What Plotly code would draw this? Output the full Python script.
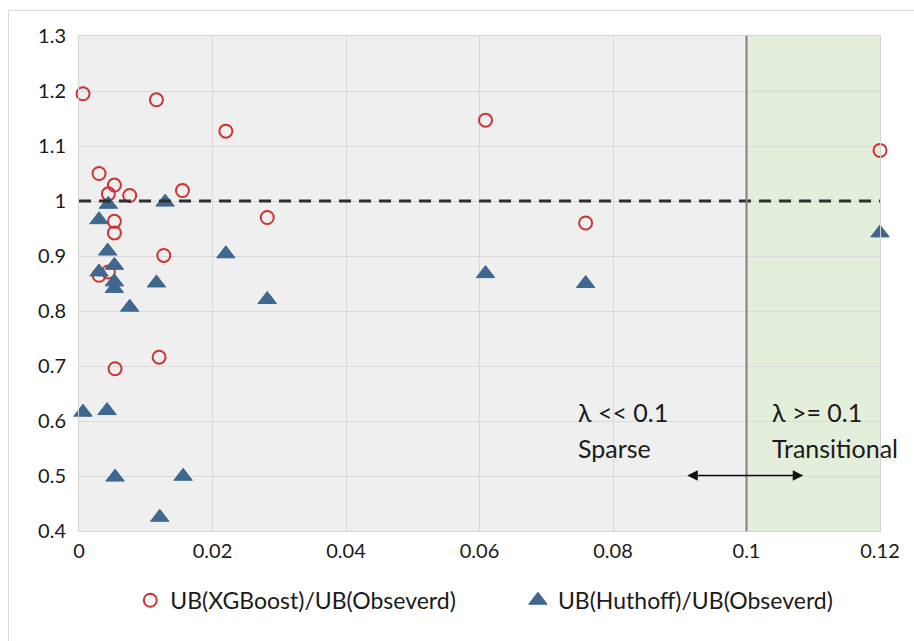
import plotly.graph_objects as go

# --- data ---
xgb_x = [0.0006, 0.0116, 0.0030, 0.0053, 0.0044, 0.0076, 0.0155, 0.0053, 0.0053, 0.0127,
         0.0030, 0.0044, 0.0120, 0.0054, 0.0220, 0.0282, 0.0609, 0.0759, 0.1200]
xgb_y = [1.195, 1.184, 1.050, 1.029, 1.013, 1.010, 1.019, 0.963, 0.942, 0.901,
         0.865, 0.871, 0.716, 0.695, 1.127, 0.970, 1.147, 0.960, 1.092]

hut_x = [0.0044, 0.0129, 0.0030, 0.0043, 0.0053, 0.0030, 0.0053, 0.0053, 0.0116, 0.0076,
         0.0006, 0.0042, 0.0054, 0.0156, 0.0121, 0.0220, 0.0282, 0.0609, 0.0759, 0.1200]
hut_y = [0.994, 0.998, 0.966, 0.909, 0.883, 0.871, 0.853, 0.841, 0.851, 0.807,
         0.616, 0.619, 0.498, 0.4995, 0.425, 0.904, 0.821, 0.868, 0.850, 0.942]

x_ticks = [0, 0.02, 0.04, 0.06, 0.08, 0.1, 0.12]
x_tick_labels = ["0", "0.02", "0.04", "0.06", "0.08", "0.1", "0.12"]
y_ticks = [0.4, 0.5, 0.6, 0.7, 0.8, 0.9, 1.0, 1.1, 1.2, 1.3]
y_tick_labels = ["0.4", "0.5", "0.6", "0.7", "0.8", "0.9", "1", "1.1", "1.2", "1.3"]

threshold = 0.1
ref_line = 1.0

FONT = "Lato"
RED = "#cc3333"
BLUE = "#3f678f"
TXT = "#1a1a1a"

fig = go.Figure()
fig.add_trace(go.Scatter(
    x=xgb_x, y=xgb_y, mode="markers", name="UB(XGBoost)/UB(Obseverd)", cliponaxis=False,
    legend="legend",
    marker=dict(symbol="circle-open", size=13, color=RED, line=dict(width=2, color=RED)),
))
fig.add_trace(go.Scatter(
    x=hut_x, y=hut_y, mode="markers", name="UB(Huthoff)/UB(Obseverd)", cliponaxis=False,
    legend="legend2",
    marker=dict(symbol="triangle-up", size=16, color=BLUE, line=dict(width=1, color=BLUE)),
))
# dashed reference line y=1
fig.add_trace(go.Scatter(
    x=[0, 0.12], y=[ref_line, ref_line], mode="lines", showlegend=False, hoverinfo="skip",
    line=dict(color="#2e2e2e", width=3, dash="12px,8px"),
))

shapes = [
    # outer chart border
    dict(type="rect", xref="paper", yref="paper", x0=-0.088, x1=1.05, y0=-0.25, y1=1.052,
         line=dict(color="#d9d9d9", width=1), fillcolor="rgba(0,0,0,0)", layer="below"),
    dict(type="rect", xref="x", yref="y", x0=0, x1=threshold, y0=0.4, y1=1.3,
         fillcolor="#efefef", line=dict(width=0), layer="below"),
    dict(type="rect", xref="x", yref="y", x0=threshold, x1=0.12, y0=0.4, y1=1.3,
         fillcolor="#e3eedb", line=dict(width=0), layer="below"),
    dict(type="line", xref="x", yref="y", x0=threshold, x1=threshold, y0=0.4, y1=1.3,
         line=dict(color="#7f7f7f", width=2), layer="above"),
]

ann_font = dict(family=FONT, size=25, color=TXT)
annotations = [
    dict(x=0.0745, y=0.617, xref="x", yref="y", text="λ << 0.1", showarrow=False,
         xanchor="left", yanchor="middle", font=ann_font),
    dict(x=0.0745, y=0.551, xref="x", yref="y", text="Sparse", showarrow=False,
         xanchor="left", yanchor="middle", font=ann_font),
    dict(x=0.1035, y=0.617, xref="x", yref="y", text="λ >= 0.1", showarrow=False,
         xanchor="left", yanchor="middle", font=ann_font),
    dict(x=0.1035, y=0.551, xref="x", yref="y", text="Transitional", showarrow=False,
         xanchor="left", yanchor="middle", font=ann_font),
    dict(x=0.1085, y=0.501, ax=0.0909, ay=0.501, xref="x", yref="y", axref="x", ayref="y",
         text="", showarrow=True, arrowhead=2, startarrowhead=2, arrowside="end+start",
         arrowsize=1.4, startarrowsize=1.4, arrowwidth=1.5, arrowcolor="#111111"),
]

leg_common = dict(orientation="h", xanchor="left", y=-0.14, yanchor="middle",
                  font=dict(family=FONT, size=23, color=TXT), itemwidth=30,
                  bgcolor="rgba(0,0,0,0)")

fig.update_layout(
    width=914, height=641,
    margin=dict(l=79, r=34, t=36, b=110),
    paper_bgcolor="white", plot_bgcolor="rgba(0,0,0,0)",
    font=dict(family=FONT, size=20, color=TXT),
    shapes=shapes, annotations=annotations,
    showlegend=True,
    legend=dict(x=0.064, **leg_common),
    legend2=dict(x=0.548, **leg_common),
)
fig.update_xaxes(range=[0, 0.12], tickvals=x_ticks, ticktext=x_tick_labels,
                 showgrid=True, gridcolor="#d9d9d9", gridwidth=1, zeroline=False,
                 showline=True, linecolor="#d4d4d4", linewidth=1, mirror=True,
                 ticks="outside", ticklen=2, tickcolor="rgba(0,0,0,0)")
fig.update_yaxes(range=[0.4, 1.3], tickvals=y_ticks, ticktext=y_tick_labels,
                 showgrid=True, gridcolor="#d9d9d9", gridwidth=1, zeroline=False,
                 showline=True, linecolor="#d4d4d4", linewidth=1, mirror=True,
                 ticks="outside", ticklen=8, tickcolor="rgba(0,0,0,0)")

fig.write_html("out.html")
